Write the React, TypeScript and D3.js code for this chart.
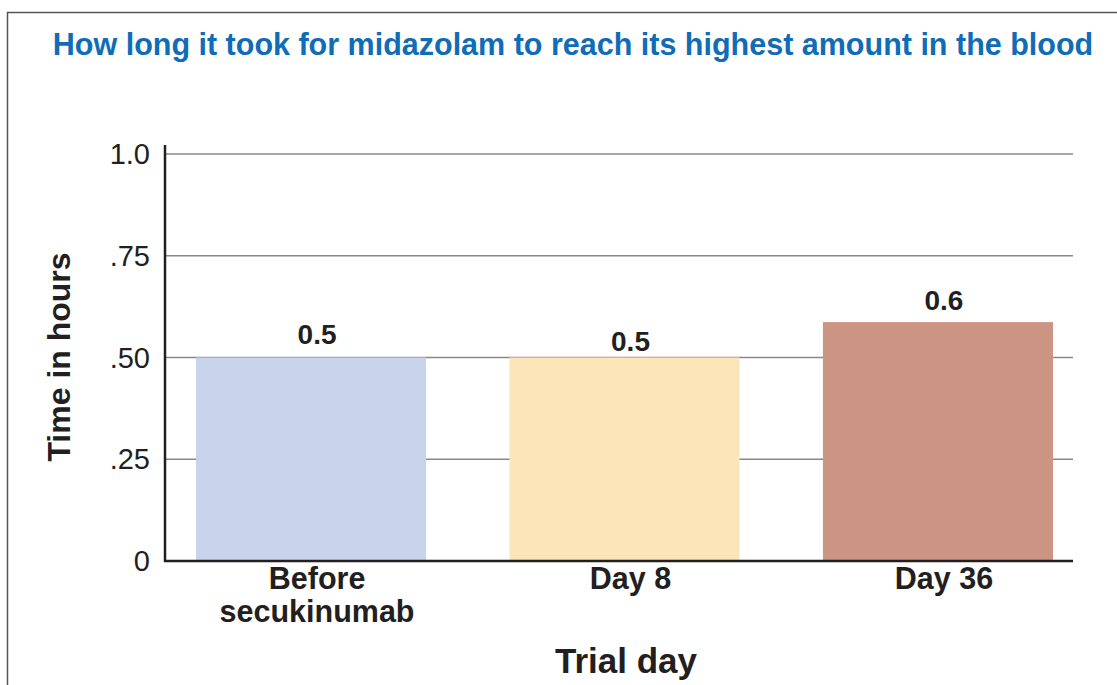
import * as React from 'react';
import * as d3 from 'd3';

const categories = ['Before\nsecukinumab', 'Day 8', 'Day 36'];
const values = [0.5, 0.5, 0.587];
const valueLabels = ['0.5', '0.5', '0.6'];
const tickValues = [0, 0.25, 0.5, 0.75, 1.0];
const tickLabels = ['0', '.25', '.50', '.75', '1.0'];
const barColors = ['#c8d4eb', '#fce5b9', '#cc9483'];

const title = 'How long it took for midazolam to reach its highest amount in the blood';
const font = 'Liberation Sans, Arial, Helvetica, sans-serif';
const ink = '#231f20';

export default function App() {
  const ref = React.useRef<SVGSVGElement>(null);

  React.useEffect(() => {
    document.body.style.margin = '0';
    const svg = d3.select(ref.current);
    svg.selectAll('*').remove();

    const y = d3.scaleLinear().domain([0, 1]).range([561, 154]);
    const x = d3.scaleBand().domain(categories).range([196, 1053]).paddingInner(0.266).paddingOuter(0);

    // frame
    svg.append('rect')
      .attr('x', 7.5).attr('y', 12.5)
      .attr('width', 1130).attr('height', 700)
      .attr('fill', 'none').attr('stroke', '#555').attr('stroke-width', 1.5);

    svg.append('text')
      .attr('x', 573).attr('y', 55)
      .attr('text-anchor', 'middle')
      .style('font', `bold 30.5px ${font}`)
      .attr('fill', '#0f6cb6')
      .text(title);

    // gridlines
    svg.append('g').selectAll('line')
      .data(tickValues.filter(d => d > 0))
      .join('line')
      .attr('x1', 165).attr('x2', 1073)
      .attr('y1', d => y(d)).attr('y2', d => y(d))
      .attr('stroke', '#888').attr('stroke-width', 1.5);

    // bars
    svg.append('g').selectAll('rect')
      .data(values)
      .join('rect')
      .attr('x', (d, i) => x(categories[i])!)
      .attr('width', x.bandwidth())
      .attr('y', d => y(d))
      .attr('height', d => y(0) - y(d))
      .attr('fill', (d, i) => barColors[i]);

    const labelGap = [14, 7, 12];
    svg.append('g').selectAll('text')
      .data(values)
      .join('text')
      .attr('x', (d, i) => x(categories[i])! + x.bandwidth() / 2 + 6)
      .attr('y', (d, i) => y(d) - labelGap[i])
      .attr('text-anchor', 'middle')
      .style('font', `bold 28px ${font}`)
      .attr('fill', ink)
      .text((d, i) => valueLabels[i]);

    // axes
    svg.append('line')
      .attr('x1', 165).attr('x2', 165).attr('y1', 145).attr('y2', y(0) + 1)
      .attr('stroke', ink).attr('stroke-width', 2.5);
    svg.append('line')
      .attr('x1', 164).attr('x2', 1073).attr('y1', y(0)).attr('y2', y(0))
      .attr('stroke', ink).attr('stroke-width', 2.5);

    svg.append('g').selectAll('text')
      .data(tickValues)
      .join('text')
      .attr('x', 150)
      .attr('y', d => y(d) + 10)
      .attr('text-anchor', 'end')
      .style('font', `29px ${font}`)
      .attr('fill', ink)
      .text((d, i) => tickLabels[i]);

    const xl = svg.append('g').selectAll('text')
      .data(categories)
      .join('text')
      .attr('text-anchor', 'middle')
      .style('font', `bold 30.5px ${font}`)
      .attr('fill', ink);
    xl.selectAll('tspan')
      .data(d => d.split('\n').map(t => ({ t, c: d })))
      .join('tspan')
      .attr('x', d => x(d.c)! + x.bandwidth() / 2 + 6)
      .attr('y', (d, i) => 589 + i * 33)
      .text(d => d.t);

    svg.append('text')
      .attr('x', 626).attr('y', 673)
      .attr('text-anchor', 'middle')
      .style('font', `bold 35px ${font}`)
      .attr('fill', ink)
      .text('Trial day');

    svg.append('text')
      .attr('transform', 'translate(70,357) rotate(-90)')
      .attr('text-anchor', 'middle')
      .style('font', `bold 32px ${font}`)
      .attr('fill', ink)
      .text('Time in hours');
  }, []);

  return <svg ref={ref} width={1117} height={685} style={{ display: 'block' }} />;
}
